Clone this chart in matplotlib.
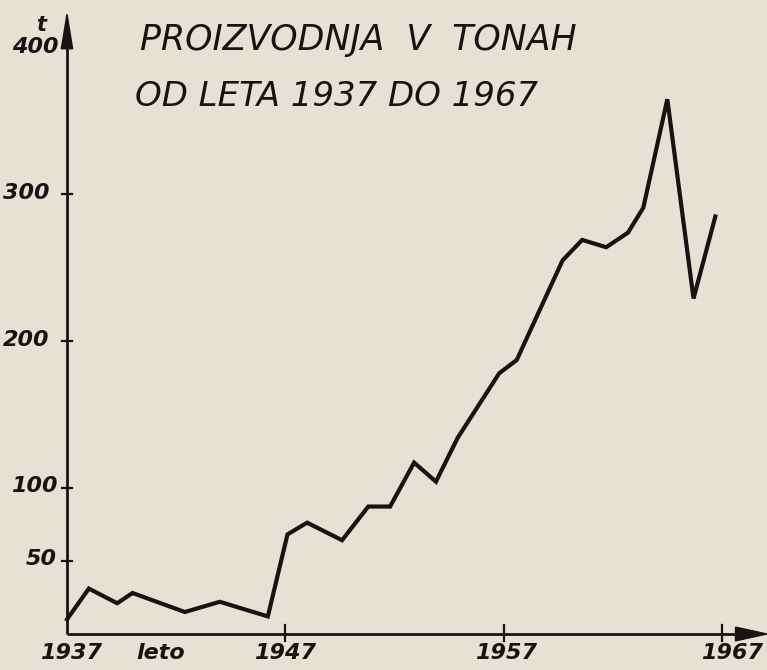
import matplotlib
matplotlib.use("Agg")
import matplotlib.pyplot as plt
from matplotlib.patches import Polygon

# Data (tons per year)
years = [1937.0, 1938.0, 1939.3, 1940.0, 1942.4, 1944.0, 1946.2, 1947.1, 1948.0,
         1949.6, 1950.8, 1951.8, 1952.9, 1953.9, 1954.9, 1956.8, 1957.6, 1959.7,
         1960.6, 1961.7, 1962.7, 1963.4, 1964.5, 1965.7, 1966.7]
tons = [10, 31, 21, 28, 15, 22, 12, 68, 76, 64, 87, 87, 117, 104, 134, 178, 187,
        255, 269, 264, 274, 291, 365, 229, 285]

y_ticks = [50, 100, 200, 300, 400]
y_tick_labels = ["50", "100", "200", "300", "400"]
x_ticks = [1937, 1947, 1957, 1967]
x_tick_labels = ["1937", "1947", "1957", "1967"]
title_lines = ["PROIZVODNJA  V  TONAH", "OD LETA 1937 DO 1967"]
x_label = "leto"
y_label = "t"

BG = "#e5e1d4"
INK = "#161412"

W, H = 767, 670
fig = plt.figure(figsize=(W / 100, H / 100), dpi=100)
fig.patch.set_facecolor(BG)

# axes: origin at pixel (67, 634), right edge at 767, top at 8
left_px, bottom_px, right_px, top_px = 67, 634, 767, 8
ax = fig.add_axes([left_px / W, (H - bottom_px) / H,
                   (right_px - left_px) / W, (bottom_px - top_px) / H])
ax.set_facecolor("none")
px_per_year = 21.83
px_per_ton = 1.465
ax.set_xlim(1937, 1937 + (right_px - left_px) / px_per_year)
ax.set_ylim(0, (bottom_px - top_px) / px_per_ton)
for s in ax.spines.values():
    s.set_visible(False)
ax.set_xticks([])
ax.set_yticks([])

# axes lines with arrows
ax.plot([0, 0], [0, 0.955], transform=ax.transAxes, color=INK, lw=2.0,
        clip_on=False, solid_capstyle="butt")
ax.add_patch(Polygon([[-0.008, 0.935], [0.008, 0.935], [0.0, 0.99]],
                     closed=True, transform=ax.transAxes, color=INK, clip_on=False))
ax.plot([0, 0.97], [0, 0], transform=ax.transAxes, color=INK, lw=2.0,
        clip_on=False, solid_capstyle="butt")
ax.add_patch(Polygon([[0.955, -0.011], [0.955, 0.011], [1.0, 0.0]],
                     closed=True, transform=ax.transAxes, color=INK, clip_on=False))

# ticks
for v in y_ticks:
    ax.plot([1936.75, 1937.25], [v, v], color=INK, lw=1.6, clip_on=False)
for v in x_ticks[1:]:
    ax.plot([v, v], [-5, 6], color=INK, lw=1.6, clip_on=False)

lab_font = dict(fontsize=16, fontstyle="italic", fontweight="bold", color=INK,
                family="DejaVu Sans")
y_label_right = [1936.55, 1936.55, 1936.2, 1936.2, 1936.6]
for v, t, xr in zip(y_ticks, y_tick_labels, y_label_right):
    ax.text(xr, v + 1, t, ha="right", va="center", **lab_font)
x_offsets = [0.2, 0.0, 0.1, 0.45]
for v, t, o in zip(x_ticks, x_tick_labels, x_offsets):
    ax.text(v + o, -13, t, ha="center", va="center", **lab_font)
ax.text(1941.3, -13, x_label, ha="center", va="center", **lab_font)
ax.text(1935.8, 416, y_label, ha="center", va="center", fontsize=15,
        fontstyle="italic", fontweight="bold", color=INK)

# title
fig.text(140 / W, 1 - 40 / H, title_lines[0], ha="left", va="center",
         fontsize=25, fontstyle="italic", color=INK, family="DejaVu Sans")
fig.text(135 / W, 1 - 96 / H, title_lines[1], ha="left", va="center",
         fontsize=24.5, fontstyle="italic", color=INK, family="DejaVu Sans")

# data line
ax.plot(years, tons, color=INK, lw=3.0, solid_joinstyle="miter", clip_on=False)

fig.savefig("out.png", dpi=100, facecolor=BG)
